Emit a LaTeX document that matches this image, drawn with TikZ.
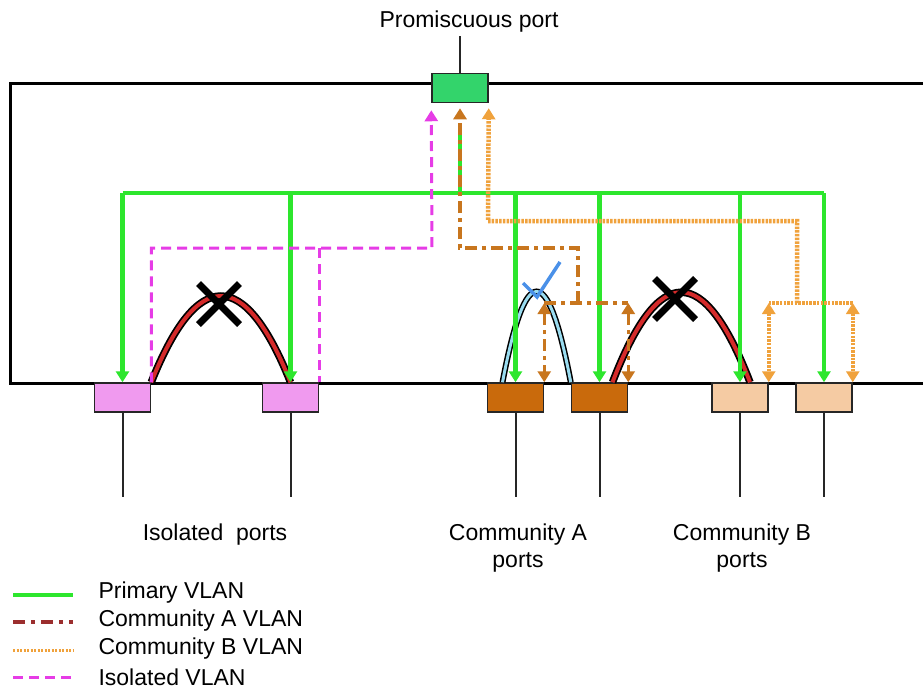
\documentclass[tikz,border=0pt]{standalone}
\usepackage{fontspec}
\setmainfont{Liberation Sans}
\usetikzlibrary{arrows.meta,shapes.misc}
\definecolor{vlanprim}{HTML}{2DE62D}
\definecolor{vlanisol}{HTML}{E63CE6}
\definecolor{vlanca}{HTML}{C8761E}
\definecolor{vlancb}{HTML}{F0A23C}
\definecolor{legca}{HTML}{9B2E2E}
\definecolor{promfill}{HTML}{33D46B}
\definecolor{isofill}{HTML}{F09AEF}
\definecolor{cafill}{HTML}{C96A0C}
\definecolor{cbfill}{HTML}{F5CBA3}
\definecolor{blockred}{HTML}{D42A2A}
\definecolor{okcyan}{HTML}{9ADCF0}
\definecolor{okblue}{HTML}{4A90E8}

\begin{document}
\begin{tikzpicture}[x=1pt,y=-1pt,
  font=\fontsize{23}{27}\selectfont,
  port/.style={draw=black!85,line width=1.5pt,minimum width=56pt,minimum height=29pt,inner sep=0pt},
  primline/.style={vlanprim,line width=4.5pt},
  isoline/.style={vlanisol,line width=3pt,dash pattern=on 10pt off 6pt},
  caline/.style={vlanca,line width=3.5pt,dash pattern=on 12pt off 5pt on 4pt off 5pt},
  cbline/.style={vlancb,line width=4.5pt,dash pattern=on 2.5pt off 1.2pt},
  headend/.style={-{Triangle[width=13pt,length=11pt]}},
  headboth/.style={{Triangle[width=13pt,length=11pt]}-{Triangle[width=13pt,length=11pt]}},
  xmark/.style={cross out,draw=black,line width=7pt,minimum size=34pt,inner sep=0pt},
  cable/.style={black!85,line width=2pt}]
  \useasboundingbox (0,0) rectangle (923,691);

  % Switch
  \draw[line width=3pt] (923,83) -- (10,83) -- (10,383) -- (923,383);

  % Promiscuous port
  \node[port,fill=promfill] (pr) at (460,88) {};
  \node (prtxt) at (469,22) {Promiscuous port};
  \draw[cable] (pr.north) -- (pr.north |- prtxt.south);

  % Host ports
  \node[port,fill=isofill] (iso1) at (122.5,397.5) {};
  \node[port,fill=isofill] (iso2) at (290.5,397.5) {};
  \node[port,fill=cafill] (ca1) at (515.5,397.5) {};
  \node[port,fill=cafill] (ca2) at (599.5,397.5) {};
  \node[port,fill=cbfill] (cb1) at (740,397.5) {};
  \node[port,fill=cbfill] (cb2) at (824,397.5) {};
  \foreach \p in {iso1,iso2,ca1,ca2,cb1,cb2}
    \draw[cable] (\p.south) -- +(0,84);

  \node (isotxt) at (215,535) {Isolated\ \ ports};
  \node[align=center] (catxt) at (518,548) {Community A\\ports};
  \node[align=center] (cbtxt) at (742,548) {Community B\\ports};

  % Arcs between ports
  \draw[black,line width=7.5pt] (iso1.north east) .. controls +(46,-115) and +(-46,-115) .. (iso2.north);
  \draw[blockred,line width=4pt] (iso1.north east) .. controls +(46,-115) and +(-46,-115) .. (iso2.north);
  \draw[black,line width=6pt] ([xshift=-13pt]ca1.north) .. controls +(23,-121) and +(-23,-121) .. (ca2.north west);
  \draw[okcyan,line width=3pt] ([xshift=-13pt]ca1.north) .. controls +(23,-121) and +(-23,-121) .. (ca2.north west);
  \draw[black,line width=7.5pt] ([xshift=13pt]ca2.north) .. controls +(46,-120) and +(-46,-120) .. ([xshift=10pt]cb1.north);
  \draw[blockred,line width=4pt] ([xshift=13pt]ca2.north) .. controls +(46,-120) and +(-46,-120) .. ([xshift=10pt]cb1.north);

  % Primary VLAN
  \coordinate (bus) at (460,193);
  \draw[primline] (pr.south |- 0,135) -- (bus);
  \draw[primline] (iso1.north |- bus) -- (cb2.north |- bus);
  \foreach \p in {iso1,iso2,ca1,ca2,cb1,cb2}
    \draw[primline,headend] (\p.north |- bus) -- (\p.north);

  % Isolated VLAN
  \coordinate (isoj) at (432,248);
  \draw[isoline,headend,shorten >=7pt] (iso1.north east) |- (isoj) -- (pr.south west);
  \draw[isoline] (iso2.north east |- isoj) -- (iso2.north east);

  % Community A VLAN
  \coordinate (caA) at (460,248);
  \coordinate (caB) at (578,303);
  \draw[caline,headend,shorten >=5pt] (caB) |- (caA) -- (pr.south);
  \draw[caline] (ca1.north east |- caB) -- (ca2.north east |- caB);
  \draw[caline,headboth] (ca1.north east |- caB) -- (ca1.north east);
  \draw[caline,headboth] (ca2.north east |- caB) -- (ca2.north east);

  % Community B VLAN
  \coordinate (cbA) at (488,221);
  \coordinate (cbB) at (797,303);
  \draw[cbline,headend,shorten >=5pt] (cbB) |- (cbA) -- (pr.south east);
  \draw[cbline] (cb1.north east |- cbB) -- (cb2.north east |- cbB);
  \draw[cbline,headboth] (cb1.north east |- cbB) -- (cb1.north east);
  \draw[cbline,headboth] (cb2.north east |- cbB) -- (cb2.north east);

  % Blocked / allowed marks
  \node[xmark] (isoblock) at (219,304) {};
  \node[xmark] (cablock) at (675,299) {};
  \draw[okblue,line width=3.5pt] (523,283) -- (537,297) -- (560,262);

  % Legend
  \draw[primline] (13,595) -- (73,595);
  \draw[legca,line width=3.5pt,dash pattern=on 12pt off 6pt on 4pt off 6pt] (13,622) -- (73,622);
  \draw[vlancb,line width=3pt,dash pattern=on 2pt off 1.5pt] (13,650) -- (73,650);
  \draw[isoline] (13,677) -- (73,677);
  \node[anchor=west] (legprim) at (95,593) {Primary VLAN};
  \node[anchor=west] (legca) at (95,621) {Community A VLAN};
  \node[anchor=west] (legcb) at (95,649) {Community B VLAN};
  \node[anchor=west] (legiso) at (95,677) {Isolated VLAN};
\end{tikzpicture}
\end{document}
